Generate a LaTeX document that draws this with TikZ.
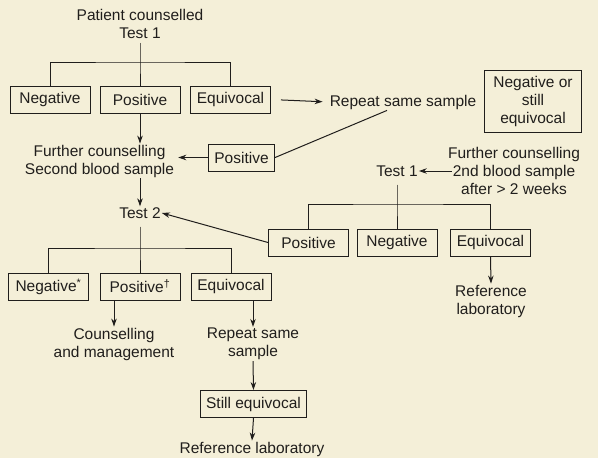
\documentclass[tikz,border=0pt]{standalone}
\usepackage{fontspec}
\setmainfont{Liberation Sans}
\usepackage{xcolor}
\usepackage{tikz}
\usetikzlibrary{arrows.meta,positioning,calc}
\definecolor{paperbg}{rgb}{0.957,0.937,0.847}
\definecolor{ink}{rgb}{0.125,0.118,0.11}
\tikzset{
  txt/.style = {align = center, inner sep = 1pt, text = ink, font = \fontsize{15.5}{18}\selectfont},
  res/.style = {txt, draw = ink, line width = 1pt, minimum width = 80pt, minimum height = 27pt, inner xsep = 6pt},
  flow/.style = {draw = ink, line width = 1pt, -{Stealth[length = 8pt, width = 5.5pt]}},
  link/.style = {draw = ink, line width = 1pt}
}

\begin{document}
\begin{tikzpicture}[x = 1pt, y = -1pt]
\path[fill = paperbg] (0,0) rectangle (598,458);
\useasboundingbox (0,0) rectangle (598,458);
\node[txt] (start) at (140, 24) {Patient counselled\\Test 1};
\coordinate (bar1) at (140, 62);
\node[res] (neg1) at (50, 99.5) {Negative};
\node[res] (pos1) at (140, 99.5) {Positive};
\node[res] (equ1) at (230.5, 99.5) {Equivocal};
\node[txt] (rep1) at (403, 102) {Repeat same sample};
\node[res, inner xsep = 9pt, inner ysep = 6pt] (negeq) at (533, 101.5) {Negative or\\still\\equivocal};
\node[res, minimum width = 0pt] (pos2) at (241.5, 157.5) {Positive};
\node[txt] (further) at (99.5, 161) {Further counselling\\Second blood sample};
\node[txt] (test2) at (140, 213) {Test 2};
\node[txt] (further2) at (514, 171) {Further counselling\\2nd blood sample\\after > 2 weeks};
\node[txt] (test1b) at (397, 171) {Test 1};
\coordinate (bar2) at (397, 204);
\node[res] (pos3) at (308.5, 242.5) {Positive};
\node[res] (neg3) at (397, 242.5) {Negative};
\node[res] (equ3) at (490.5, 242.5) {Equivocal};
\node[txt] (reflab1) at (491, 301) {Reference\\laboratory};
\coordinate (bar3) at (140, 248);
\node[res] (neg4) at (48.5, 286.5) {Negative\textsuperscript{*}};
\node[res] (pos4) at (140, 286.5) {Positive\textsuperscript{†}};
\node[res] (equ4) at (231, 286.5) {Equivocal};
\node[txt] (couns) at (114, 344) {Counselling\\and management};
\node[txt] (rep2) at (253, 344) {Repeat same\\sample};
\node[res, minimum width = 0pt] (still) at (253.5, 404) {Still equivocal};
\node[txt] (reflab2) at (252, 449) {Reference laboratory};

\draw[link, shorten <= 3pt] (start.south) -- (bar1) -- (pos1.north);
\draw[link] (neg1.north) |- (bar1) -| (equ1.north);
\draw[flow, shorten <= 10pt, shorten >= 6pt] (equ1.east) -- (rep1.west);
\draw[link] ([xshift = -16pt]rep1.south) -- (pos2.east);
\draw[flow] (pos1.south) -- (pos1.south |- further.north);
\draw[flow, shorten >= 3pt] (pos2.west) -- (further.east |- pos2.west);
\draw[flow] (test2.north |- further.south) -- (test2.north);
\draw[flow] ([xshift = 5pt]further2.west) -- (test1b.east);
\draw[link, shorten <= 7pt] (test1b.south) -- (bar2) -- (neg3.north);
\draw[link] (pos3.north) |- (bar2) -| (equ3.north);
\draw[flow] (pos3.west) -- (test2.east);
\draw[flow] (equ3.south) -- (reflab1.north);
\draw[link, shorten <= 7pt] (test2.south) -- (bar3) -- (pos4.north);
\draw[link] (neg4.north) |- (bar3) -| (equ4.north);
\draw[flow] (couns.north |- pos4.south) -- (couns.north);
\draw[flow] (rep2.north |- equ4.south) -- (rep2.north);
\draw[flow] (rep2.south) -- (still.north);
\draw[flow] (still.south) -- (reflab2.north);
\end{tikzpicture}
\end{document}
